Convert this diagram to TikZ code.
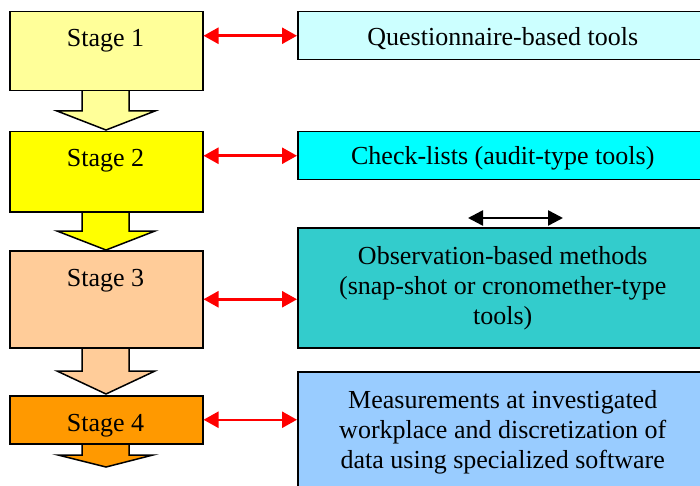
\documentclass[tikz,border=0pt]{standalone}
\usepackage{fontspec}
\setmainfont{Liberation Serif}
\usetikzlibrary{arrows.meta}
\definecolor{sa}{HTML}{FFFF99}
\definecolor{sb}{HTML}{FFFF00}
\definecolor{sc}{HTML}{FFCC99}
\definecolor{sd}{HTML}{FF9900}
\definecolor{ra}{HTML}{CCFFFF}
\definecolor{rb}{HTML}{00FFFF}
\definecolor{rc}{HTML}{33CCCC}
\definecolor{rd}{HTML}{99CCFF}
\definecolor{redline}{HTML}{FF0000}
\begin{document}
\begin{tikzpicture}[x=1pt,y=-1pt,
  box/.style={draw=black, line width=1.5pt, rectangle, inner sep=0pt, anchor=north west,
    font=\fontsize{26}{30}\selectfont, align=center},
  txt/.style={font=\fontsize{26}{30}\selectfont, inner sep=0pt},
  downarrow/.style={draw=black, line width=1.5pt, line join=miter},
  redarrow/.style={draw=redline, line width=2.5pt, {Triangle[length=15pt,width=16pt]}-{Triangle[length=15pt,width=16pt]}},
  blackarrow/.style={draw=black, line width=2.5pt, {Triangle[length=15pt,width=15pt]}-{Triangle[length=15pt,width=15pt]}}]
\useasboundingbox (0,0) rectangle (700,486);
\clip (0,0) rectangle (700,486);
% down arrows (drawn first, boxes cover their tops)
\draw[downarrow, fill=sa] (82,88) -- (82,111) -- (57,111) -- (106,130) -- (155,111) -- (129,111) -- (129,88) -- cycle;
\draw[downarrow, fill=sb] (82,209) -- (82,231) -- (57,231) -- (106,250) -- (155,231) -- (129,231) -- (129,209) -- cycle;
\draw[downarrow, fill=sc] (82,345) -- (82,371) -- (57,371) -- (106,394) -- (155,371) -- (129,371) -- (129,345) -- cycle;
\draw[downarrow, fill=sd] (82,441) -- (82,455) -- (58,455) -- (106,467) -- (153,455) -- (129,455) -- (129,441) -- cycle;
% stage boxes
\node[box, fill=sa, minimum width=193pt, minimum height=79pt] (s1) at (9,11) {};
\node[box, fill=sb, minimum width=193pt, minimum height=80pt] (s2) at (9,131) {};
\node[box, fill=sc, minimum width=193pt, minimum height=97pt] (s3) at (9,250) {};
\node[box, fill=sd, minimum width=193pt, minimum height=48pt] (s4) at (9,395) {};
\node[txt] (t1) at (105.5,41) {Stage 1};
\node[txt] (t2) at (105.5,161) {Stage 2};
\node[txt] (t3) at (105.5,281) {Stage 3};
\node[txt] (t4) at (105.5,426) {Stage 4};
% right boxes
\node[box, fill=ra, minimum width=410pt, minimum height=48pt] (r1) at (297,11) {\raisebox{-3pt}[\height][\depth]{Questionnaire-based tools}};
\node[box, fill=rb, minimum width=410pt, minimum height=48pt] (r2) at (297,131) {\raisebox{-3pt}[\height][\depth]{Check-lists (audit-type tools)}};
\node[box, fill=rc, minimum width=410pt, minimum height=120pt] (r3) at (297,227) {Observation-based methods\\(snap-shot or cronomether-type\\tools)};
\node[box, fill=rd, minimum width=410pt, minimum height=121pt] (r4) at (297,371) {Measurements at investigated\\workplace and discretization of\\data using specialized software};
% connectors
\draw[redarrow] (s1.east |- r1.west) -- (r1.west);
\draw[redarrow] (s2.east |- r2.west) -- (r2.west);
\draw[redarrow] (s3.east) -- (r3.west |- s3.east);
\draw[redarrow] (s4.east) -- (r4.west |- s4.east);
\coordinate (ba1) at (468,218);
\coordinate (ba2) at (563,218);
\draw[blackarrow] (ba1) -- (ba2);
\end{tikzpicture}
\end{document}
